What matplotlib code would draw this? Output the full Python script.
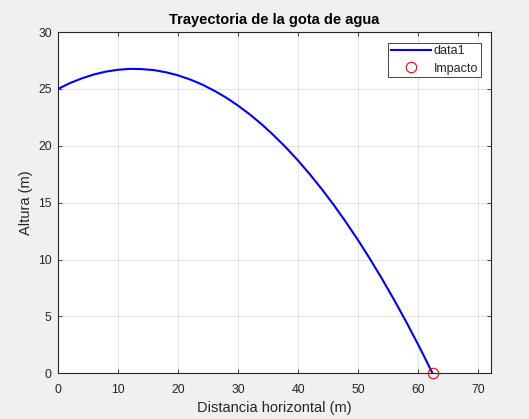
import matplotlib
matplotlib.use("Agg")
import matplotlib.pyplot as plt

# Trajectory values
x_dist = [0, 2, 4, 6, 8, 10, 12, 14, 16, 18, 20, 22, 24, 26, 28, 30, 32, 34,
          36, 38, 40, 42, 44, 46, 48, 50, 52, 54, 56, 58, 60, 61, 62.4]
y_alt = [25.00, 25.51, 25.93, 26.27, 26.52, 26.68, 26.76, 26.74, 26.65, 26.46,
         26.19, 25.83, 25.39, 24.85, 24.24, 23.53, 22.74, 21.86, 20.89, 19.84,
         18.70, 17.47, 16.16, 14.76, 13.27, 11.70, 10.04, 8.29, 6.46, 4.54,
         2.53, 1.49, 0.0]
impact_x = [62.4]
impact_y = [0.0]

title = "Trayectoria de la gota de agua"
xlabel = "Distancia horizontal (m)"
ylabel = "Altura (m)"
series_labels = ["data1", "Impacto"]
x_ticks = [0, 10, 20, 30, 40, 50, 60, 70]
y_ticks = [0, 5, 10, 15, 20, 25, 30]

plt.rcParams['font.family'] = ['Liberation Sans', 'DejaVu Sans']
dark = (0.15, 0.15, 0.15)

fig = plt.figure(figsize=(5.29, 4.19), dpi=100, facecolor='#f0f0f0')
ax = fig.add_axes([0.1096, 0.1091, 0.8192, 0.8145])
ax.set_facecolor('white')

ax.plot(x_dist, y_alt, color='#0000ff', lw=1.5, label=series_labels[0], zorder=3)
ax.plot(impact_x, impact_y, 'o', mfc='none', mec='#ff0000', ms=7.5, mew=0.8,
        label=series_labels[1], zorder=4, clip_on=False)

ax.set_xlim(0, 72.2)
ax.set_ylim(0, 30)
ax.set_xticks(x_ticks)
ax.set_yticks(y_ticks)
ax.grid(True, color=(0.15, 0.15, 0.15), alpha=0.15, lw=0.6)
ax.set_axisbelow(True)
ax.tick_params(direction='in', length=3, width=0.6, colors=dark, labelsize=8.8,
               top=True, right=True, labelcolor=dark)
ax.tick_params(axis='x', pad=7.5)
ax.tick_params(axis='y', pad=4.5)
for s in ax.spines.values():
    s.set_color(dark)
    s.set_linewidth(0.8)

ax.set_title(title, fontsize=10.5, fontweight='bold', color='black', pad=6)
ax.set_xlabel(xlabel, fontsize=10.5, color=dark, labelpad=4)
ax.set_ylabel(ylabel, fontsize=10.5, color=dark, labelpad=3.5)

leg = ax.legend(loc='upper right', fontsize=9, fancybox=False, framealpha=1,
                edgecolor=dark, borderaxespad=0.85, handlelength=3.2,
                handletextpad=0.25, borderpad=0.2, labelspacing=0.45)
leg.get_frame().set_linewidth(0.6)
for t in leg.get_texts():
    t.set_color(dark)

fig.savefig("out.png", dpi=100, facecolor=fig.get_facecolor())
